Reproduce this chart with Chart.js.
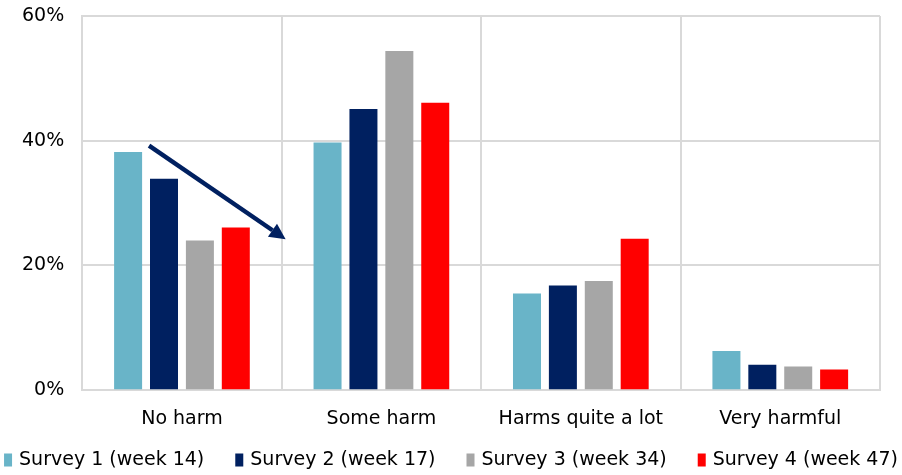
<!DOCTYPE html>
<html>
<head>
<meta charset="utf-8">
<script src="https://cdn.jsdelivr.net/npm/chart.js@4.4.0/dist/chart.umd.min.js"></script>
<style>
  html, body { margin: 0; padding: 0; background: #fff; }
  #wrap { width: 902px; height: 475px; }
</style>
</head>
<body>
<div id="wrap"><canvas id="harmChart" width="902" height="475"></canvas></div>
<script>
const categories = ['No harm', 'Some harm', 'Harms quite a lot', 'Very harmful'];
const surveyNames = ['Survey 1 (week 14)', 'Survey 2 (week 17)', 'Survey 3 (week 34)', 'Survey 4 (week 47)'];
const survey1 = [38.2, 39.7, 15.5, 6.3];
const survey2 = [33.9, 45.1, 16.8, 4.1];
const survey3 = [24.0, 54.4, 17.5, 3.8];
const survey4 = [26.1, 46.1, 24.3, 3.3];
const yTicks = [0, 20, 40, 60];

const colors = ['#69b4c8', '#002060', '#a6a6a6', '#ff0000'];
const FONT = '"DejaVu Sans", sans-serif';

// navy trend arrow from "No harm" towards "Some harm"
const arrowPlugin = {
  id: 'trendArrow',
  afterDatasetsDraw(chart) {
    const x = chart.scales.x, y = chart.scales.y;
    const step = x.getPixelForValue(1) - x.getPixelForValue(0);
    const x0 = x.getPixelForValue(0) - 0.165 * step, y0 = y.getPixelForValue(39.2);
    const x1 = x.getPixelForValue(0) + 0.52 * step, y1 = y.getPixelForValue(24.2);
    const ang = Math.atan2(y1 - y0, x1 - x0);
    const head = 16, hw = 8;
    const ctx = chart.ctx;
    ctx.save();
    ctx.strokeStyle = '#002060';
    ctx.fillStyle = '#002060';
    ctx.lineWidth = 4.5;
    ctx.beginPath();
    ctx.moveTo(x0, y0);
    ctx.lineTo(x1 - head * Math.cos(ang), y1 - head * Math.sin(ang));
    ctx.stroke();
    ctx.beginPath();
    ctx.moveTo(x1, y1);
    ctx.lineTo(x1 - head * Math.cos(ang) + hw * Math.sin(ang), y1 - head * Math.sin(ang) - hw * Math.cos(ang));
    ctx.lineTo(x1 - head * Math.cos(ang) - hw * Math.sin(ang), y1 - head * Math.sin(ang) + hw * Math.cos(ang));
    ctx.closePath();
    ctx.fill();
    ctx.restore();
  }
};

// single-row legend along the bottom edge, tighter than the built-in one
const rowLegend = {
  id: 'rowLegend',
  afterDraw(chart) {
    const ctx = chart.ctx;
    const boxW = 8, boxH = 13, textGap = 7, itemGap = 31;
    ctx.save();
    ctx.font = '19px ' + FONT;
    const items = chart.data.datasets.map(ds => ({
      text: ds.label, color: ds.backgroundColor, w: ctx.measureText(ds.label).width
    }));
    const total = items.reduce((s, it) => s + boxW + textGap + it.w, 0) + itemGap * (items.length - 1);
    let x = (chart.width - total) / 2;
    const cy = 460;
    ctx.textBaseline = 'middle';
    items.forEach(it => {
      ctx.fillStyle = it.color;
      ctx.fillRect(x, cy - boxH / 2, boxW, boxH);
      ctx.fillStyle = '#000';
      ctx.fillText(it.text, x + boxW + textGap, cy);
      x += boxW + textGap + it.w + itemGap;
    });
    ctx.restore();
  }
};

const series = [survey1, survey2, survey3, survey4];

new Chart(document.getElementById('harmChart'), {
  type: 'bar',
  data: {
    labels: categories,
    datasets: series.map((vals, i) => ({
      label: surveyNames[i],
      data: vals,
      backgroundColor: colors[i],
      categoryPercentage: 0.72,
      barPercentage: 0.78
    }))
  },
  options: {
    responsive: false,
    animation: false,
    layout: { padding: { top: 16, right: 22, left: 4, bottom: 28 } },
    scales: {
      x: {
        grid: { color: '#d9d9d9', lineWidth: 2, drawTicks: false, offset: true },
        border: { color: '#d9d9d9', width: 2 },
        ticks: { color: '#000', font: { family: FONT, size: 19 }, padding: 17 }
      },
      y: {
        min: 0,
        max: 60,
        afterBuildTicks: axis => { axis.ticks = yTicks.map(v => ({ value: v })); },
        afterFit: axis => { axis.paddingTop = 0; axis.paddingBottom = 0; },
        grid: { color: '#d9d9d9', lineWidth: 2, drawTicks: false },
        border: { color: '#d9d9d9', width: 2 },
        ticks: { color: '#000', font: { family: FONT, size: 19 }, padding: 18, callback: v => v + '%' }
      }
    },
    plugins: {
      legend: { display: false },
      tooltip: { enabled: false }
    }
  },
  plugins: [arrowPlugin, rowLegend]
});
</script>
</body>
</html>
